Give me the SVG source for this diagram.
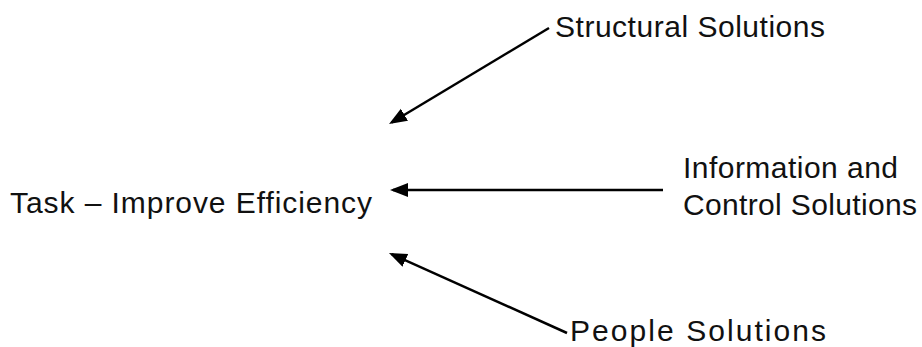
<svg xmlns="http://www.w3.org/2000/svg" width="922" height="347" viewBox="0 0 922 347">
  <style>
    .lbl { font-family: "Liberation Sans", Arial, sans-serif; font-size: 30px; fill: #111; }
    .conn { stroke: #000; stroke-width: 2.5; fill: none; }
  </style>
  <defs>
    <marker id="ah" markerUnits="userSpaceOnUse" markerWidth="20" markerHeight="16" refX="15" refY="7" orient="auto">
      <path d="M0,0 L18,7 L0,14 Z" fill="#000"/>
    </marker>
  </defs>
  <rect width="922" height="347" fill="#fff"/>
  <g id="connectors">
    <line class="conn" x1="549" y1="28" x2="391.6" y2="122.5" marker-end="url(#ah)"/>
    <line class="conn" x1="663" y1="190" x2="393" y2="190" marker-end="url(#ah)"/>
    <line class="conn" x1="567" y1="333" x2="391.7" y2="254.2" marker-end="url(#ah)"/>
  </g>
  <g id="task">
    <text class="lbl" x="10" y="213" textLength="362" lengthAdjust="spacing">Task – Improve Efficiency</text>
  </g>
  <g id="structural">
    <text class="lbl" x="555" y="37" textLength="270" lengthAdjust="spacing">Structural Solutions</text>
  </g>
  <g id="information">
    <text class="lbl" x="683" y="178" textLength="215" lengthAdjust="spacing">Information and</text>
    <text class="lbl" x="683" y="215" textLength="234" lengthAdjust="spacing">Control Solutions</text>
  </g>
  <g id="people">
    <text class="lbl" x="570" y="341" textLength="256" lengthAdjust="spacing">People Solutions</text>
  </g>
</svg>
